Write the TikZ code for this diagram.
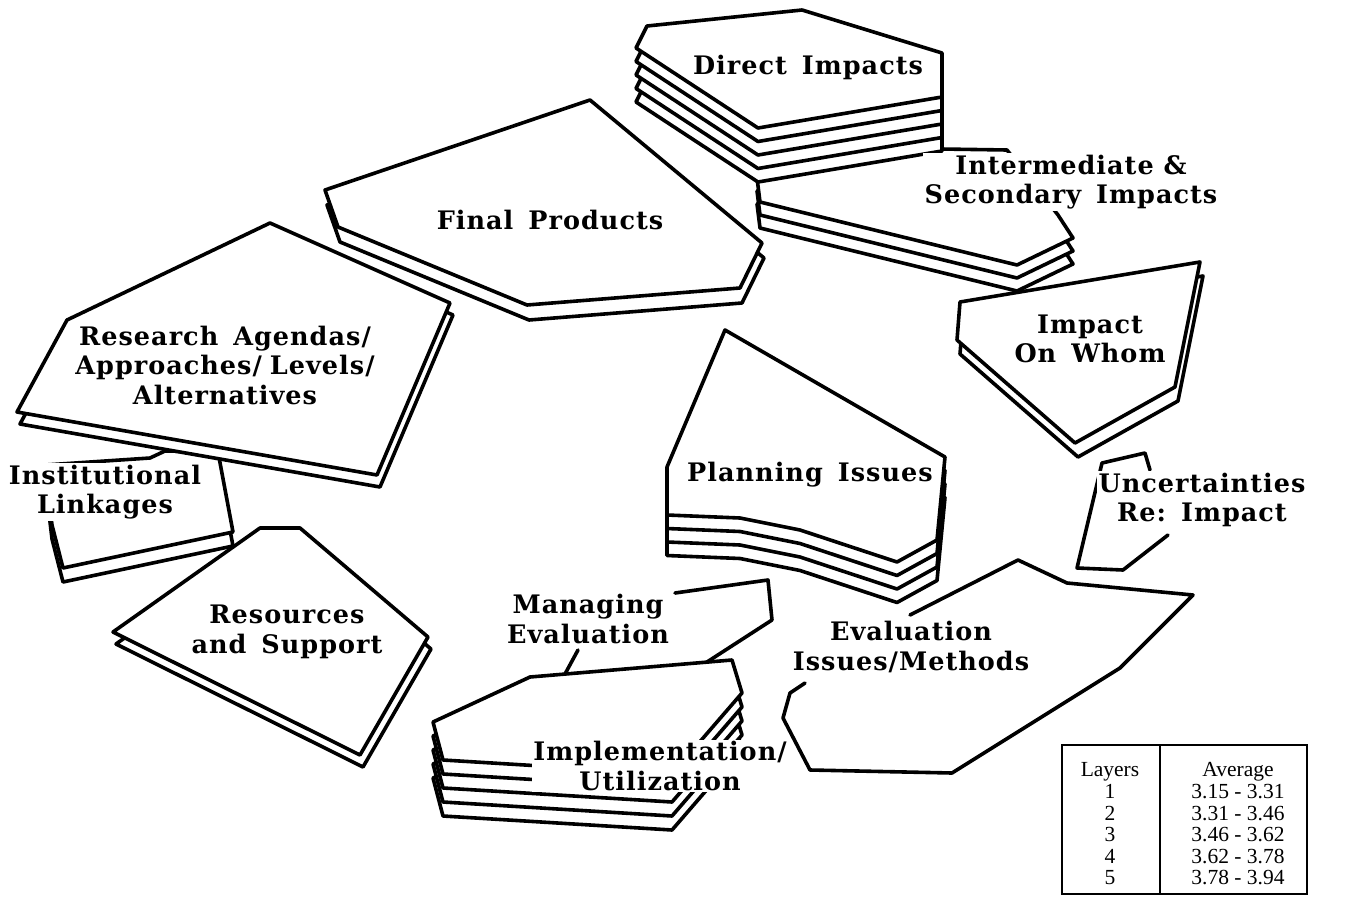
\documentclass[tikz,border=0pt]{standalone}
\usepackage{fontspec}
\setmainfont{Liberation Serif}
\newfontfamily\lblfam[LetterSpace=4]{DejaVu Serif}
\newcommand{\gap}{\hspace{15pt}}
\newcommand{\stk}[4]{\foreach \k in {#1,...,1}{\path[lay,shift={({(\k-1)*(#2)},{(\k-1)*(#3)})}] #4 -- cycle;}}
\tikzset{
  lay/.style={fill=white,draw=black,line width=3.6pt,line join=round},
  edge/.style={draw=black,line width=3.6pt,line join=round,line cap=round},
  lbl/.style={font=\lblfam\bfseries\fontsize{25.5}{29.5}\selectfont,align=center,fill=white,inner sep=1.5pt},
  leg/.style={font=\fontsize{21.5}{21.6}\selectfont,align=center,inner sep=0pt}
}
\begin{document}
\begin{tikzpicture}[x=1pt,y=-1pt]
\useasboundingbox (0,0) rectangle (1358,897);
% Intermediate & Secondary Impacts
\stk{3}{0}{13}{(757,178) -- (875,148) -- (1007,150) -- (1058,215) -- (1073,238) -- (1017,265) -- (760,202)}
% Direct Impacts
\stk{5}{0}{13.5}{(647,26) -- (802,10) -- (942,53) -- (942,97) -- (758,128) -- (636,48)}
% Final Products
\stk{2}{2}{15}{(325,190) -- (590,100) -- (762,243) -- (740,288) -- (527,305) -- (338,227)}
% Institutional Linkages
\stk{2}{0}{14}{(45,465) -- (150,458) -- (165,451) -- (218,452) -- (233,532) -- (63,568) -- (52,525)}
% Research Agendas
\stk{2}{3}{12}{(270,223) -- (450,303) -- (377,475) -- (17,412) -- (67,320)}
% Resources and Support
\stk{2}{3}{12}{(260,528) -- (300,528) -- (428,637) -- (360,755) -- (113,632)}
% Planning Issues
\stk{4}{0}{13.5}{(725,330) -- (945,457) -- (937,540) -- (897,562) -- (800,530) -- (740,518) -- (667,515) -- (667,467)}
% Impact On Whom
\stk{2}{3}{14}{(960,302) -- (1200,262) -- (1175,387) -- (1075,443) -- (957,340)}
% Managing Evaluation (partly hidden)
\draw[edge] (565,674) -- (578,650);
\draw[edge] (675,593) -- (768,580) -- (772,620) -- (707,662);
% Implementation / Utilization
\stk{5}{0}{14}{(433,722) -- (530,677) -- (732,660) -- (742,693) -- (672,774) -- (443,760)}
% Evaluation Issues/Methods
\draw[edge] (910,615) -- (1018,560) -- (1067,583) -- (1193,595) -- (1120,668) -- (952,773) -- (810,770) -- (783,718) -- (790,693) -- (805,683);
% Uncertainties Re: Impact
\draw[edge] (1150,470) -- (1145,453) -- (1102,463) -- (1077,568) -- (1123,570) -- (1168,535);
% labels
\node[lbl] (tDirect) at (808,67) {Direct\gap Impacts};
\node[lbl] (tInter) at (1071,182) {Intermediate \&\\Secondary\gap Impacts};
\node[lbl] (tFinal) at (550,220) {Final\gap Products};
\node[lbl] (tResearch) at (225,365) {Research\gap Agendas/\\Approaches/\hspace{8pt}Levels/\\Alternatives};
\node[lbl] (tInst) at (105,492) {Institutional\\Linkages};
\node[lbl] (tRes) at (287,632) {Resources\\and\gap Support};
\node[lbl] (tPlan) at (810,475) {Planning\gap Issues};
\node[lbl] (tWhom) at (1090,339) {Impact\\On\gap Whom};
\node[lbl] (tUnc) at (1202,500) {Uncertainties\\Re:\gap Impact};
\node[lbl] (tEval) at (911,647) {Evaluation\\Issues/Methods};
\node[lbl] (tMan) at (588,619) {Managing\\Evaluation};
\node[lbl] (tImpl) at (660,766) {Implementation/\\Utilization};
% legend
\draw[line width=2.2pt] (1062,745) rectangle (1307,894);
\draw[line width=2.2pt] (1160,745) -- (1160,894);
\node[leg] (legL) at (1110,824) {Layers\\1\\2\\3\\4\\5};
\node[leg] (legA) at (1238,824) {Average\\3.15 - 3.31\\3.31 - 3.46\\3.46 - 3.62\\3.62 - 3.78\\3.78 - 3.94};
\end{tikzpicture}
\end{document}
